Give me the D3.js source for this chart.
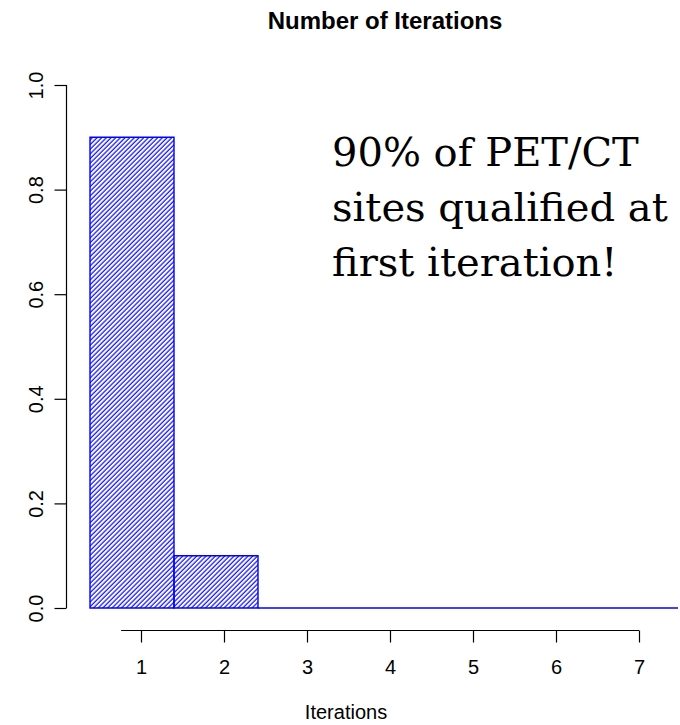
<!doctype html>
<html lang="en">
  <head>
    <meta charset="UTF-8" />
    <title>Number of Iterations</title>
    <script src="https://d3js.org/d3.v7.min.js"></script>
    <style>
      body { margin: 0; background: #fff; }
      text { font-family: "Liberation Sans", Arial, sans-serif; }
    </style>
  </head>
  <body>
    <div id="graph"></div>
    <script>
    // data
    var iterations = [1, 2, 3, 4, 5, 6, 7];
    var proportions = [0.9, 0.1, 0, 0, 0, 0, 0];
    var yTicks = [0, 0.2, 0.4, 0.6, 0.8, 1.0];
    var xTicks = [1, 2, 3, 4, 5, 6, 7];
    var titleText = "Number of Iterations";
    var xLabel = "Iterations";
    var noteLines = ["90% of PET/CT", "sites qualified at", "first iteration!"];

    var width = 680,
        height = 725;

    var svg = d3.select("#graph").append("svg")
                .attr("width", width)
                .attr("height", height);

    // hatch fill like R's density/angle shading
    var defs = svg.append("defs");
    defs.append("pattern")
        .attr("id", "hatch")
        .attr("patternUnits", "userSpaceOnUse")
        .attr("width", 3.3)
        .attr("height", 3.3)
        .attr("patternTransform", "rotate(45)")
      .append("line")
        .attr("x1", 1).attr("y1", 0)
        .attr("x2", 1).attr("y2", 3.3)
        .attr("stroke", "#0000ff")
        .attr("stroke-width", 1.15);

    var y = d3.scaleLinear().domain([0, 1]).range([608, 85]);
    var xBar = d3.scaleBand().domain(iterations).range([90, 678]).padding(0);
    var xAxisScale = d3.scaleLinear().domain([1, 7]).range([141, 639]);

    // bars (zero-height bars still draw as a flat outline)
    svg.append("g").selectAll("path.bar")
        .data(iterations.map(function(d, i) { return { it: d, p: proportions[i] }; }))
        .enter().append("path")
        .attr("class", "bar")
        .attr("d", function(d) {
            var x0 = xBar(d.it), x1 = x0 + xBar.bandwidth();
            return "M" + x0 + "," + y(0) + "H" + x1 + "V" + y(d.p) + "H" + x0 + "Z";
        })
        .attr("fill", "url(#hatch)")
        .attr("stroke", "#0000ff")
        .attr("stroke-width", 1.4);

    // y axis
    var yAxis = svg.append("g")
        .attr("transform", "translate(66.5,0)")
        .call(d3.axisLeft(y).tickValues(yTicks).tickSize(12).tickSizeOuter(0).tickFormat(d3.format(".1f")));
    yAxis.select(".domain").attr("d", "M0," + y(0) + "V" + y(1));
    yAxis.selectAll("text")
        .attr("transform", "rotate(-90)")
        .attr("x", 0)
        .attr("y", -24)
        .attr("dy", 0)
        .attr("text-anchor", "middle")
        .style("font-size", "20px")
        .attr("fill", "#000");

    // x axis
    var xAxis = svg.append("g")
        .attr("transform", "translate(0,630.5)")
        .call(d3.axisBottom(xAxisScale).tickValues(xTicks).tickSize(12).tickSizeOuter(0).tickFormat(d3.format("d")));
    xAxis.select(".domain").attr("d", "M" + xAxisScale(0.76) + ",0H" + xAxisScale(7));
    xAxis.selectAll("text")
        .attr("y", 43)
        .attr("dy", 0)
        .style("font-size", "20px")
        .attr("fill", "#000");
    svg.selectAll(".domain, .tick line").attr("stroke", "#000").attr("stroke-width", 1.2);

    // titles
    svg.append("text")
        .attr("x", 385)
        .attr("y", 29)
        .attr("text-anchor", "middle")
        .style("font-size", "24px")
        .style("font-weight", "bold")
        .text(titleText);

    svg.append("text")
        .attr("x", 346)
        .attr("y", 719)
        .attr("text-anchor", "middle")
        .style("font-size", "20px")
        .text(xLabel);

    // annotation
    svg.append("g").selectAll("text")
        .data(noteLines)
        .enter().append("text")
        .attr("x", 332)
        .attr("y", function(d, i) { return 166 + i * 55; })
        .style("font-family", "'DejaVu Serif', serif")
        .style("font-size", "40px")
        .text(function(d) { return d; });
    </script>
  </body>
</html>
